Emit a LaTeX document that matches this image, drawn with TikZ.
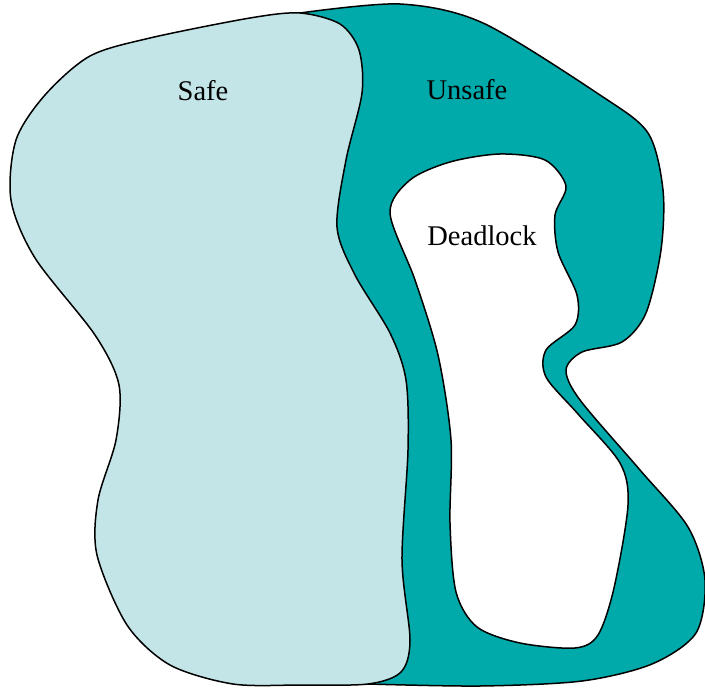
\documentclass[tikz,border=0pt]{standalone}
\usepackage{fontspec}
\setmainfont{Liberation Serif}
\definecolor{unsafecol}{HTML}{00A9AA}
\definecolor{safecol}{HTML}{C4E5E8}
\tikzset{
  region/.style={draw=black, line width=1.5pt, line join=round},
  unsaferegion/.style={region, fill=unsafecol},
  saferegion/.style={region, fill=safecol},
  deadregion/.style={region, fill=white},
  lbl/.style={font=\fontsize{28.5}{32}\selectfont, anchor=base, inner sep=0pt}
}
\begin{document}
\begin{tikzpicture}[x=1pt, y=-1pt]
\useasboundingbox (0,0) rectangle (705,688);
% Unsafe region
\filldraw[unsaferegion] plot[smooth] coordinates {(300,13) (400,4) (483,23) (600,95) (648,133) (663,190) (661,250) (646,313) (622,342) (582,352) (566,370) (580,400) (640,470) (688,527) (705,580) (696,633) (652,664) (582,681) (480,686) (368,684)} -- (250,600) -- (250,60) -- cycle;
% Safe region
\filldraw[saferegion] plot[smooth cycle] coordinates {(300,13) (340,24) (359,50) (362,93) (346,160) (337,227) (355,275) (390,333) (406,380) (408,450) (402,560) (410,640) (401,672) (368,684) (300,685) (233,684) (170,665) (127,625) (97,555) (98,500) (116,440) (119,385) (95,335) (35,258) (11,200) (16,140) (45,95) (90,56) (150,38) (250,18)};
% Deadlock region
\filldraw[deadregion] plot[smooth cycle] coordinates {(500,154) (545,160) (566,186) (555,215) (558,252) (577,295) (575,325) (546,350) (546,377) (578,414) (620,463) (628,505) (614,588) (598,635) (575,648) (520,643) (477,627) (456,592) (450,523) (451,440) (438,355) (415,280) (390,213) (410,180) (450,162)};
\node[lbl] (safe) at (203,100) {Safe};
\node[lbl] (unsafe) at (467,99) {Unsafe};
\node[lbl] (deadlock) at (482,245) {Deadlock};
\end{tikzpicture}
\end{document}
